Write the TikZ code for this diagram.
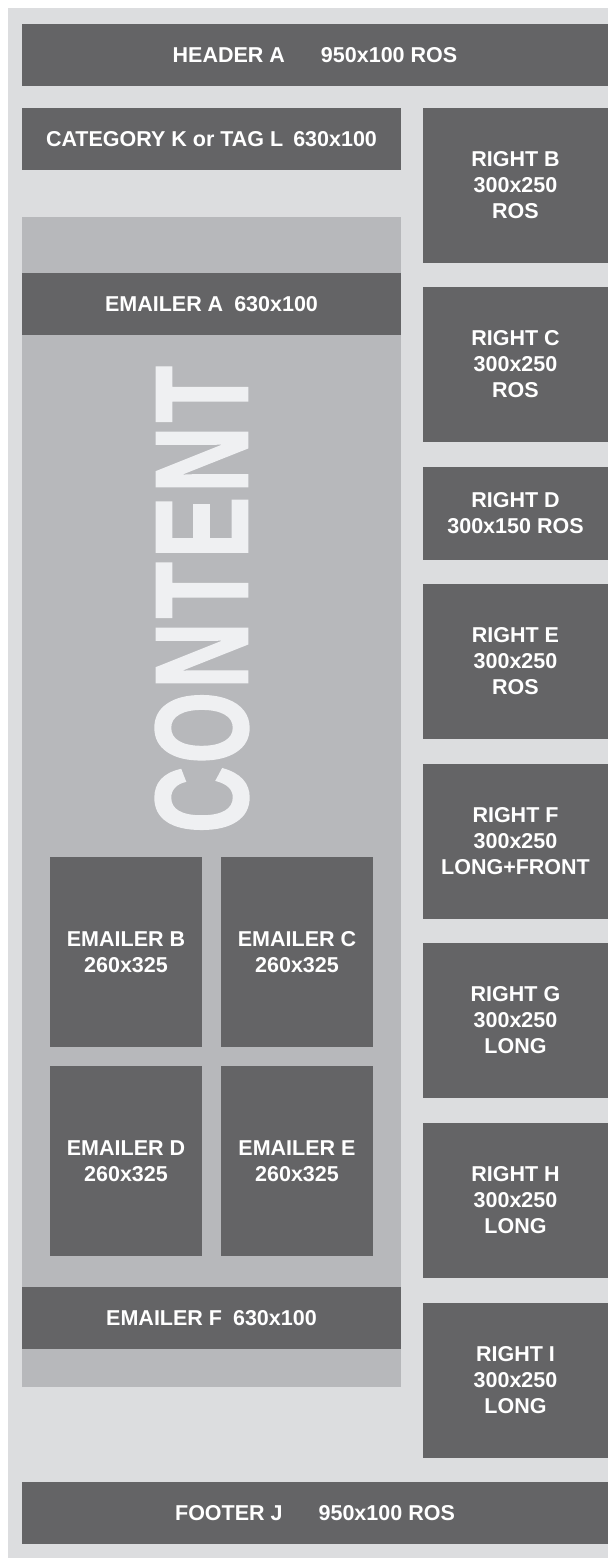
\documentclass[tikz,border=0pt]{standalone}
\usepackage{fontspec}
\setmainfont{Liberation Sans}
\newfontfamily\contentfont{Liberation Sans}[BoldFeatures={FakeBold=1.5}]
\usepackage{graphicx}
\definecolor{bgLight}{HTML}{DCDDDF}
\definecolor{midGray}{HTML}{B7B8BB}
\definecolor{darkBox}{HTML}{646466}
\definecolor{ghost}{HTML}{EFF0F2}
\tikzset{
  adbox/.style={fill=darkBox, draw=none, text=white, inner sep=0pt, outer sep=0pt,
    align=center, font=\fontsize{21.5}{26}\selectfont\bfseries},
}
% box from corners: \adnode{name}{x1}{y1}{x2}{y2}{text}
\newcommand{\adnode}[6]{%
  \pgfmathsetmacro{\cxA}{(#2+#4)/2}%
  \pgfmathsetmacro{\cyA}{(#3+#5)/2}%
  \pgfmathsetmacro{\wA}{#4-#2}%
  \pgfmathsetmacro{\hA}{#5-#3}%
  \node[adbox, minimum width=\wA pt, minimum height=\hA pt] (#1) at (\cxA,\cyA) {#6};%
}
\begin{document}
\begin{tikzpicture}[x=1pt, y=-1pt]
\useasboundingbox (0,0) rectangle (608,1558);
\fill[white] (0,0) rectangle (608,1558);
\fill[bgLight] (8,8) rectangle (608,1558);
% content area
\fill[midGray] (22,217) rectangle (401,1387);
\node[rotate=90, text=ghost, inner sep=0pt] (contenttext) at (202,599.5)
  {\resizebox{467pt}{92pt}{\contentfont\bfseries C\kern0.03em O\kern0.03em N\kern0.04em T\kern0.04em E\kern0.04em N\kern0.04em T}};
% boxes
\adnode{header}{22}{24}{608}{86}{HEADER A\hspace{36pt}950x100 ROS}
\adnode{category}{22}{108}{401}{170}{CATEGORY K or TAG L\hspace{4pt} 630x100}
\adnode{emailerA}{22}{273}{401}{335}{EMAILER A\hspace{5pt} 630x100}
\adnode{emailerF}{22}{1287}{401}{1349}{EMAILER F\hspace{5pt} 630x100}
\adnode{emailerB}{50}{857}{202}{1047}{EMAILER B\\260x325}
\adnode{emailerC}{221}{857}{373}{1047}{EMAILER C\\260x325}
\adnode{emailerD}{50}{1066}{202}{1256}{EMAILER D\\260x325}
\adnode{emailerE}{221}{1066}{373}{1256}{EMAILER E\\260x325}
\adnode{rightB}{423}{108}{608}{263}{RIGHT B\\300x250\\ROS}
\adnode{rightC}{423}{287}{608}{442}{RIGHT C\\300x250\\ROS}
\adnode{rightD}{423}{467}{608}{560}{RIGHT D\\300x150 ROS}
\adnode{rightE}{423}{584}{608}{739}{RIGHT E\\300x250\\ROS}
\adnode{rightF}{423}{764}{608}{919}{RIGHT F\\300x250\\LONG+FRONT}
\adnode{rightG}{423}{943}{608}{1098}{RIGHT G\\300x250\\LONG}
\adnode{rightH}{423}{1123}{608}{1278}{RIGHT H\\300x250\\LONG}
\adnode{rightI}{423}{1303}{608}{1458}{RIGHT I\\300x250\\LONG}
\adnode{footer}{22}{1482}{608}{1544}{FOOTER J\hspace{36pt}950x100 ROS}
\end{tikzpicture}
\end{document}
